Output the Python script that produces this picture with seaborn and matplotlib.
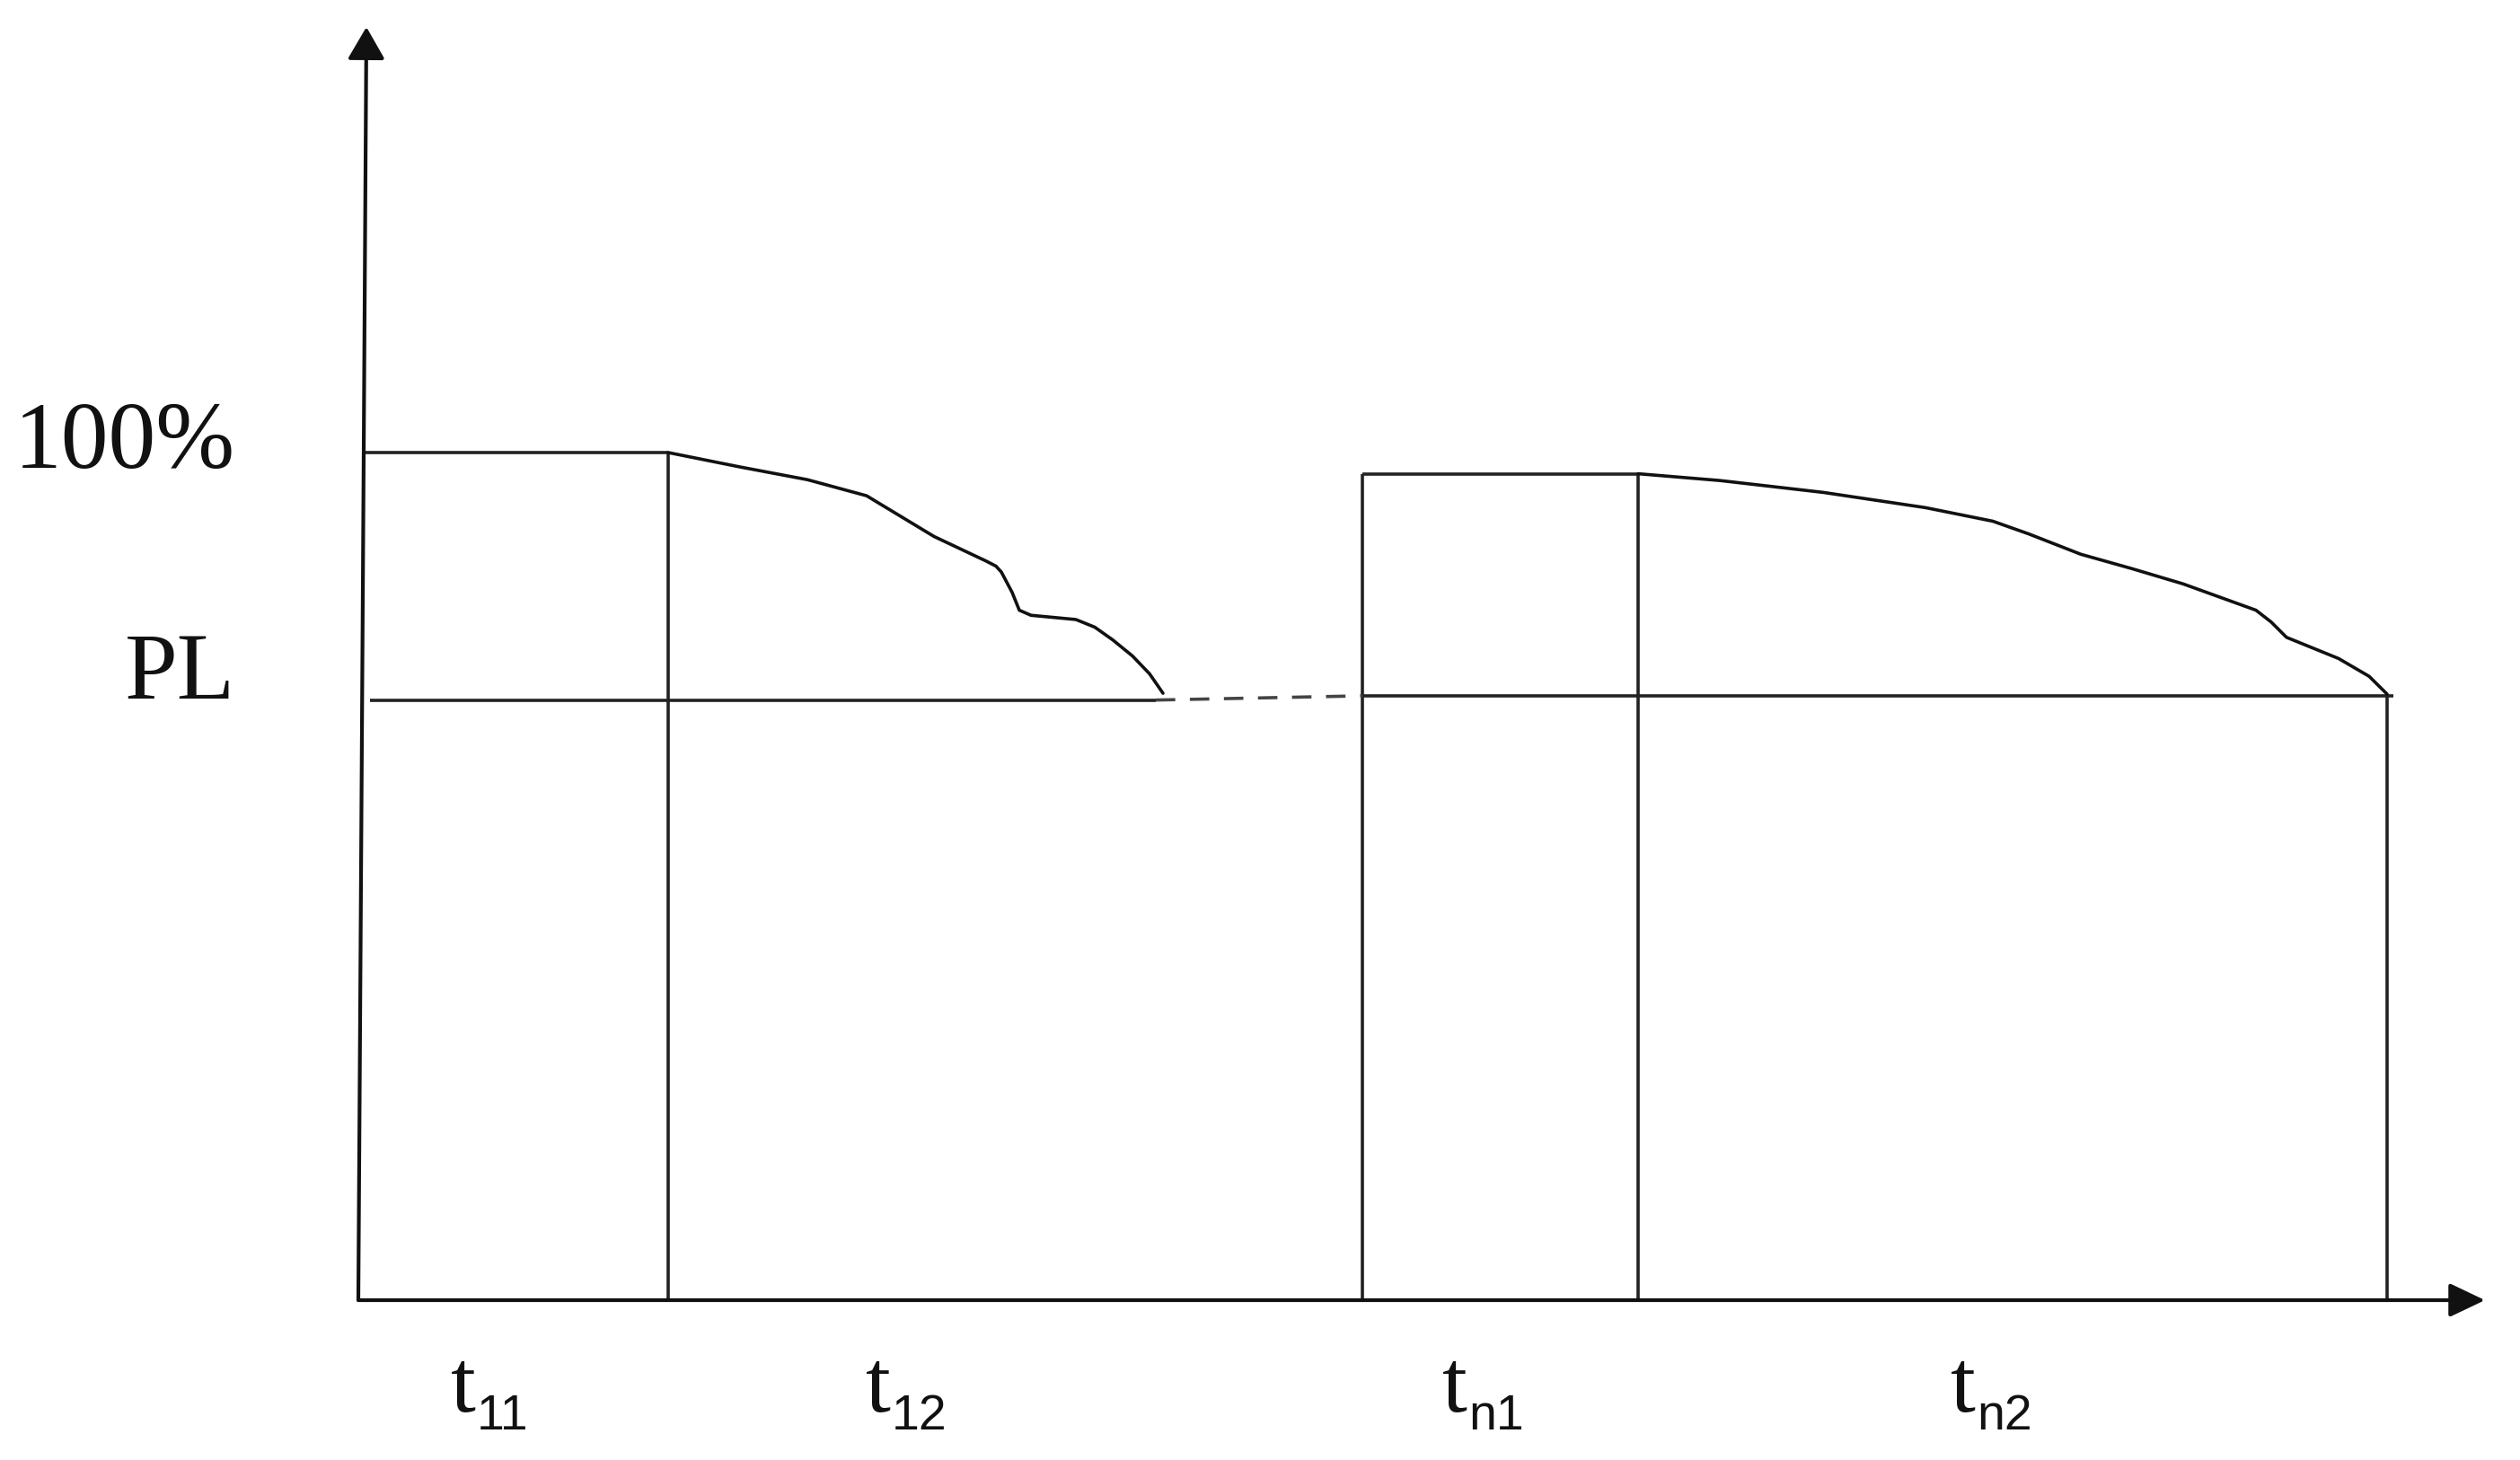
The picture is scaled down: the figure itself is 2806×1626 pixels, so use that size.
import matplotlib
matplotlib.use("Agg")
import matplotlib.pyplot as plt
import seaborn as sns
import pandas as pd

# ---------------- data (x: time units, y: percent) ----------------
level_full = 100.0          # "100%"
level_pl_left = 70.8        # PL level, first cycle
level_pl_right = 71.3       # PL level, n-th cycle
top_right = 97.5            # restored level, n-th cycle

t11_end = 3.45
tn1_start = 11.18
tn1_end = 14.25
tn2_end = 22.59

curve1_x = [3.45, 4.25, 5.00, 5.66, 5.80, 5.91, 6.41, 6.99, 7.10, 7.16, 7.28, 7.36, 7.49, 7.99, 8.20, 8.40, 8.62, 8.81, 8.96]
curve1_y = [100.0, 98.3, 96.8, 94.9, 94.0, 93.3, 90.1, 87.2, 86.6, 85.9, 83.5, 81.4, 80.8, 80.3, 79.4, 77.9, 76.0, 73.9, 71.6]

curve2_x = [14.25, 15.16, 16.31, 17.45, 18.20, 18.60, 19.18, 19.75, 20.32, 21.13, 21.30, 21.47, 22.05, 22.39, 22.59]
curve2_y = [97.5, 96.7, 95.3, 93.5, 91.9, 90.4, 88.0, 86.3, 84.5, 81.4, 80.0, 78.2, 75.7, 73.6, 71.5]

gap_x = [8.88, 11.18]
gap_y = [70.8, 71.3]

y_labels = ["100%", "PL"]
y_label_pos = [100.9, 73.7]

t_sub = ["11", "12", "n1", "n2"]
t_label_x = [1.03, 5.65, 12.07, 17.73]

x_axis_end = 23.68
y_axis_top = 150.2
y_axis_top_x = 0.09

# ---------------- figure ----------------
sns.set_theme(style="white")
plt.rcParams["font.family"] = ["Liberation Serif", "DejaVu Serif"]

W, H = 2806, 1626
fig = plt.figure(figsize=(W / 100, H / 100), dpi=100)
ax = fig.add_axes([0, 0, 1, 1])
# pixel mapping: x=0 at px 399, 100 px per unit; y=0 at px 1448, 9.44 px per percent
ax.set_xlim(-3.99, (W - 399) / 100)
ax.set_ylim((1448 - H) / 9.44, 1448 / 9.44)
ax.axis("off")

line_c = "#222222"
curve_c = "#111111"
lw = 2.6

# axes with arrows
ax.annotate("", xy=(x_axis_end, 0), xytext=(0, 0),
            arrowprops=dict(arrowstyle="-|>,head_length=0.42,head_width=0.2",
                            mutation_scale=58, lw=lw + 0.4, color="#111111",
                            shrinkA=0, shrinkB=0))
ax.annotate("", xy=(y_axis_top_x, y_axis_top), xytext=(0, 0),
            arrowprops=dict(arrowstyle="-|>,head_length=0.38,head_width=0.22",
                            mutation_scale=58, lw=lw + 0.4, color="#111111",
                            shrinkA=0, shrinkB=0))

# first cycle rectangle parts
ax.hlines(level_full, 0.04, t11_end, color=line_c, lw=lw)
ax.vlines(t11_end, 0, level_full, color=line_c, lw=lw)
ax.hlines(level_pl_left, 0.13, gap_x[0], color=line_c, lw=lw)

# n-th cycle
ax.vlines([tn1_start, tn1_end], 0, top_right, color=line_c, lw=lw)
ax.hlines(top_right, tn1_start, tn1_end, color=line_c, lw=lw)
ax.hlines(level_pl_right, tn1_start, tn2_end + 0.07, color=line_c, lw=lw)
ax.vlines(tn2_end, 0, level_pl_right, color=line_c, lw=lw)

# decay curves
df1 = pd.DataFrame({"t": curve1_x, "p": curve1_y})
df2 = pd.DataFrame({"t": curve2_x, "p": curve2_y})
sns.lineplot(data=df1, x="t", y="p", ax=ax, color=curve_c, lw=lw, sort=False, estimator=None)
sns.lineplot(data=df2, x="t", y="p", ax=ax, color=curve_c, lw=lw, sort=False, estimator=None)

# dashed gap
ax.plot(gap_x, gap_y, color="#444444", lw=lw, linestyle=(0, (6, 4.5)))

# y labels
for lab, yp in zip(y_labels, y_label_pos):
    ax.text(-1.37, yp, lab, ha="right", va="center", fontsize=76,
            family=["Liberation Serif"], color="#111111")

# t labels
for sub, xp in zip(t_sub, t_label_x):
    ax.text(xp, -13.1, "t", ha="left", va="baseline", fontsize=72,
            family=["Liberation Serif"], color="#111111")
    ax.text(xp + 0.29, -15.25, sub, ha="left", va="baseline", fontsize=40,
            family=["Liberation Sans"], color="#111111")

fig.savefig("out.png", dpi=100, facecolor="white")
